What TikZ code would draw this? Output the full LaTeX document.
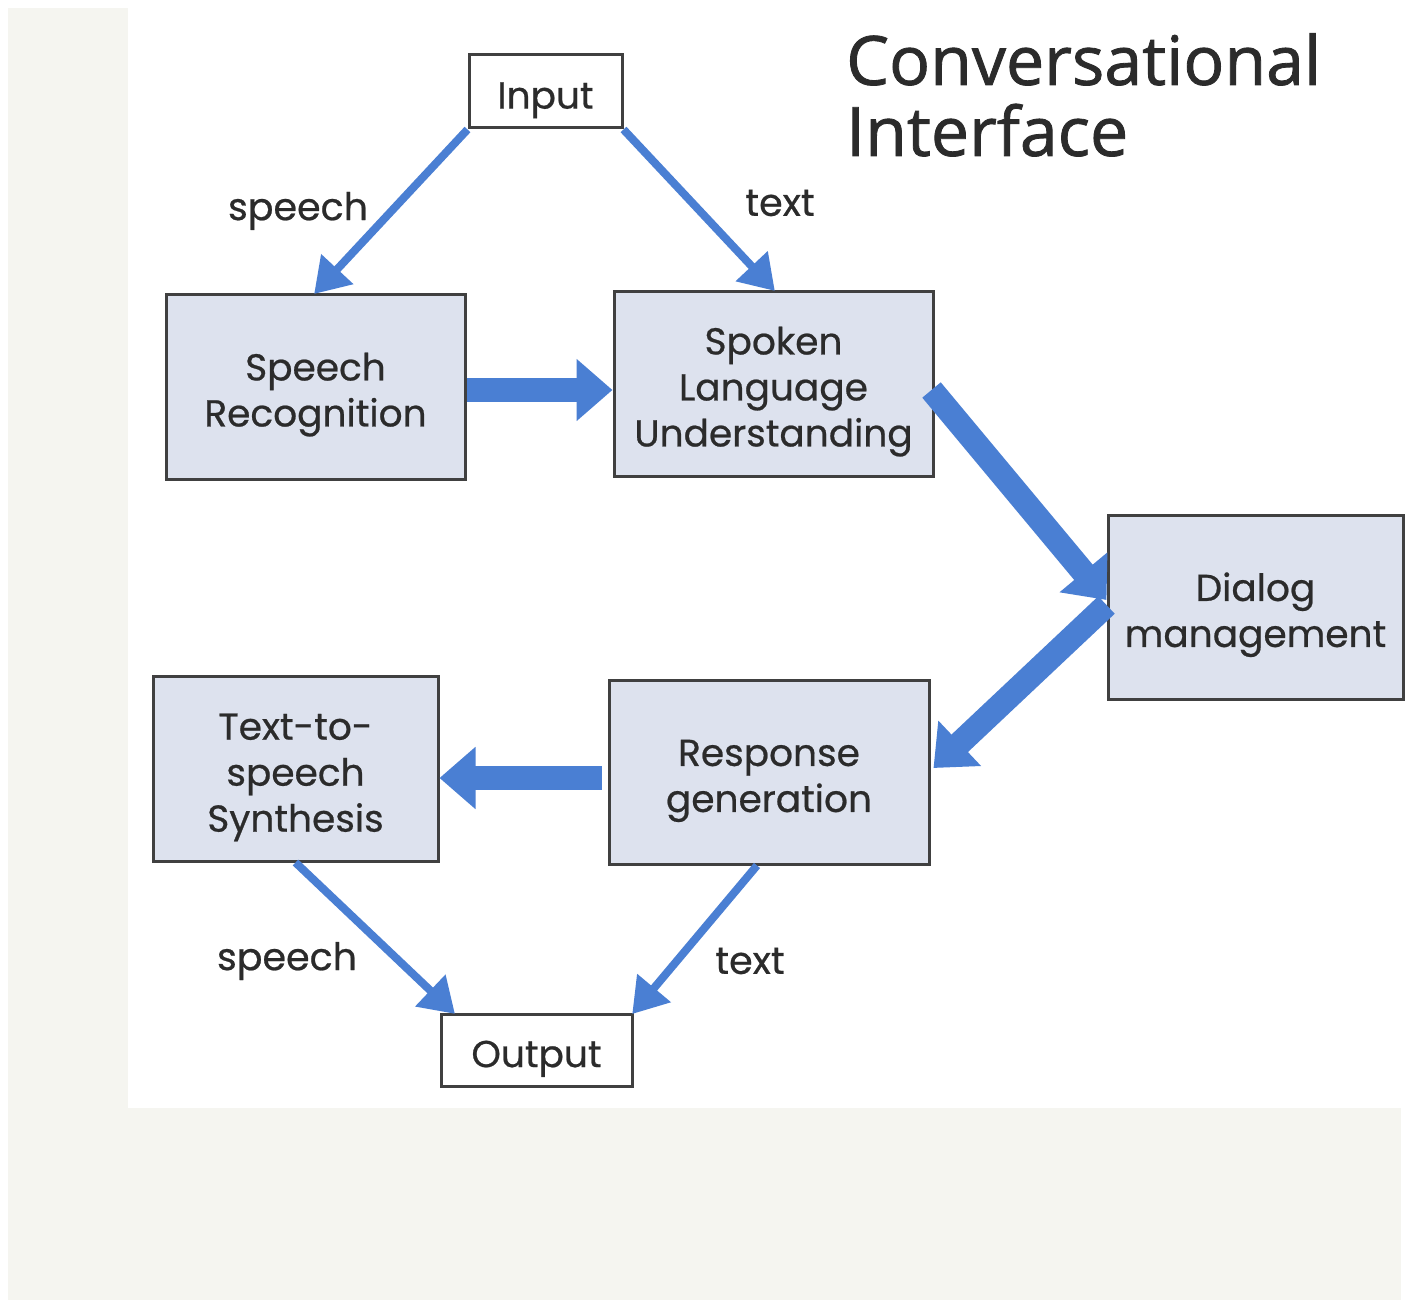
\documentclass[tikz,border=0pt]{standalone}
\usepackage{fontspec}
\setmainfont{Poppins}[FakeBold=0.6]
\newfontfamily\titlefont{Open Sans}[FakeBold=1.2]
\usetikzlibrary{arrows.meta}
\definecolor{bgoff}{HTML}{F5F5F0}
\definecolor{boxfill}{HTML}{DDE2EE}
\definecolor{arrowblue}{HTML}{4A7FD3}
\definecolor{txt}{HTML}{2B2B2B}
\newcommand\topstrut{\rule{0pt}{44pt}}
\tikzset{
  box/.style={draw=txt!90, line width=3pt, fill=boxfill, align=center, inner sep=0pt,
    text=txt, font=\fontsize{37.5}{46}\selectfont},
  iobox/.style={box, fill=white},
  thinarrow/.style={draw=arrowblue, line width=8pt,
    -{Triangle[length=34pt,width=42pt]}, shorten >=-2pt},
  thickarrow/.style={draw=arrowblue, line width=24pt,
    -{Triangle[length=36pt,width=60pt]}},
  lbl/.style={text=txt, font=\fontsize{38}{44}\selectfont, inner sep=0pt}
}
\begin{document}
\begin{tikzpicture}[x=1pt,y=-1pt]
\useasboundingbox (0,0) rectangle (1409,1303);
\fill[white] (0,0) rectangle (1409,1303);
\fill[bgoff] (8,8) rectangle (1401,1300);
\fill[white] (128,8) rectangle (1401,1108);

\node[iobox, minimum width=153pt, minimum height=73pt] (in) at (545.5,91.5) {\topstrut Input};
\node[box, minimum width=299pt, minimum height=185pt] (sr) at (315.5,386.5) {\topstrut Speech\\Recognition};
\node[box, minimum width=319pt, minimum height=185pt] (slu) at (773.5,383.5) {\topstrut Spoken\\Language\\Understanding};
\node[box, minimum width=295pt, minimum height=184pt] (dm) at (1255.5,607) {\topstrut Dialog\\management};
\node[box, minimum width=285pt, minimum height=185pt] (tts) at (295.5,768.5) {\topstrut Text-to-\\speech\\Synthesis};
\node[box, minimum width=320pt, minimum height=184pt] (rg) at (769,772) {\topstrut Response\\generation};
\node[iobox, minimum width=191pt, minimum height=72pt] (out) at (536.5,1050) {\topstrut Output};

\node[anchor=north west, inner sep=0pt, align=left, text=txt,
  font=\titlefont\fontsize{68}{71}\selectfont] (title) at (846,33) {Conversational\\Interface};

\draw[thinarrow] (in.south west) -- (sr.north);
\draw[thinarrow] (in.south east) -- (slu.north);
\draw[thickarrow] ([yshift=-3.5pt]sr.east) -- ([yshift=-6.5pt]slu.west);
\draw[thickarrow] ([yshift=-6.5pt,xshift=-3pt]slu.east) -- ([yshift=7pt]dm.west);
\draw[thickarrow] ([yshift=2pt]dm.west) -- ([yshift=4pt,xshift=3pt]rg.east);
\draw[thickarrow] ([yshift=-6pt,xshift=-6pt]rg.west) -- ([yshift=-9.5pt]tts.east);
\draw[thinarrow] (tts.south) -- ([xshift=14pt]out.north west);
\draw[thinarrow] ([xshift=-12pt]rg.south) -- (out.north east);

\node[lbl] (l1) at (298,211) {speech};
\node[lbl] (l2) at (780,203) {text};
\node[lbl] (l3) at (287,961) {speech};
\node[lbl] (l4) at (750,961) {text};
\end{tikzpicture}
\end{document}
